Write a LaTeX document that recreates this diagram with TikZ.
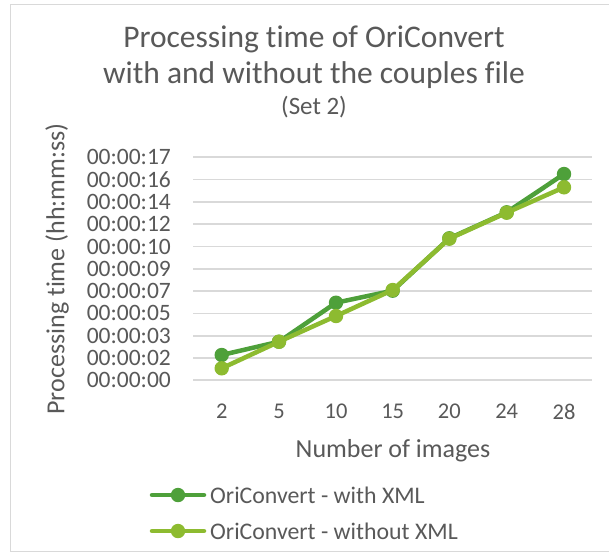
\documentclass[tikz,border=0pt]{standalone}
\usepackage{fontspec}
\setmainfont[Ligatures=NoCommon]{Carlito}
\definecolor{txt}{HTML}{595959}
\definecolor{grid}{HTML}{D9D9D9}
\definecolor{dgreen}{HTML}{4EA03A}
\definecolor{lgreen}{HTML}{8DBB30}
\begin{document}
\begin{tikzpicture}[x=1pt,y=-1pt,
  gridline/.style={grid,line width=1.7pt},
  ticklab/.style={text=txt,font=\fontsize{23.5}{24}\selectfont,inner sep=0pt,anchor=east},
  catlab/.style={text=txt,font=\fontsize{22.5}{24}\selectfont,inner sep=0pt},
  titlelab/.style={text=txt,font=\fontsize{31.5}{36}\selectfont,inner sep=0pt,anchor=base},
  series/.style={line width=4.5pt,line join=round,line cap=round},
  mark1/.style={fill=dgreen,draw=none},
  mark2/.style={fill=lgreen,draw=none}]
\useasboundingbox (0,0) rectangle (609,554);
\fill[white] (0,0) rectangle (609,554);
% outer border
\draw[grid,line width=1.5pt] (609,4.5) -- (10.5,4.5) -- (10.5,551.5) -- (609,551.5);
% title
\node[titlelab] (title1) at (314,47) {Processing time of OriConvert};
\node[titlelab] (title2) at (314,83) {with and without the couples file};
\node[text=txt,font=\fontsize{25}{28}\selectfont,inner sep=0pt,anchor=base] (subtitle) at (314,114) {(Set 2)};
% gridlines and tick labels
\foreach \lab [count=\i from 0] in {00,02,03,05,07,09,10,12,14,16,17}{
  \pgfmathsetmacro\yy{380.3-\i*22.3}
  \draw[gridline] (193,\yy) -- (592,\yy);
  \node[ticklab] (t\i) at (171,\yy) {00:00:\lab};
}
% category labels
\foreach \lab/\xx [count=\i] in {2/221.7,5/279,10/336,15/392.7,20/449.3,24/506.7,28/564}{
  \node[catlab] (c\i) at (\xx,411.5) {\lab};
}
% axis titles
\node[text=txt,font=\fontsize{26}{28}\selectfont,inner sep=0pt] (xtitle) at (393,451) {Number of images};
\node[text=txt,font=\fontsize{26}{28}\selectfont,inner sep=0pt,rotate=90] (ytitle) at (57,269) {Processing time (hh:mm:ss)};
% data
\coordinate (a1) at (221.7,355);
\coordinate (a2) at (279,341.7);
\coordinate (a3) at (336,302.7);
\coordinate (a4) at (392.7,290.7);
\coordinate (a5) at (449.3,238.3);
\coordinate (a6) at (506.7,212.3);
\coordinate (a7) at (564,174);
\coordinate (b1) at (221.7,368.3);
\coordinate (b2) at (279,341.7);
\coordinate (b3) at (336,316);
\coordinate (b4) at (392.7,290);
\coordinate (b5) at (449.3,238.7);
\coordinate (b6) at (506.7,212.7);
\coordinate (b7) at (564,187.3);
\draw[series,dgreen] (a1) -- (a2) -- (a3) -- (a4) -- (a5) -- (a6) -- (a7);
\foreach \k in {1,...,7}{\fill[mark1] (a\k) circle (7.2);}
\draw[series,lgreen] (b1) -- (b2) -- (b3) -- (b4) -- (b5) -- (b6) -- (b7);
\foreach \k in {1,...,7}{\fill[mark2] (b\k) circle (7.2);}
% legend
\coordinate (la1) at (152,495);
\coordinate (la2) at (204,495);
\coordinate (lb1) at (152,531);
\coordinate (lb2) at (204,531);
\draw[series,dgreen] (la1) -- (la2);
\fill[mark1] (178,495) circle (7.2);
\draw[series,lgreen] (lb1) -- (lb2);
\fill[mark2] (178,531) circle (7.2);
\node[text=txt,font=\fontsize{23.8}{26}\selectfont,inner sep=0pt,anchor=west] (leg1) at (210,495) {OriConvert - with XML};
\node[text=txt,font=\fontsize{23.8}{26}\selectfont,inner sep=0pt,anchor=west] (leg2) at (210,531) {OriConvert - without XML};
\end{tikzpicture}
\end{document}
